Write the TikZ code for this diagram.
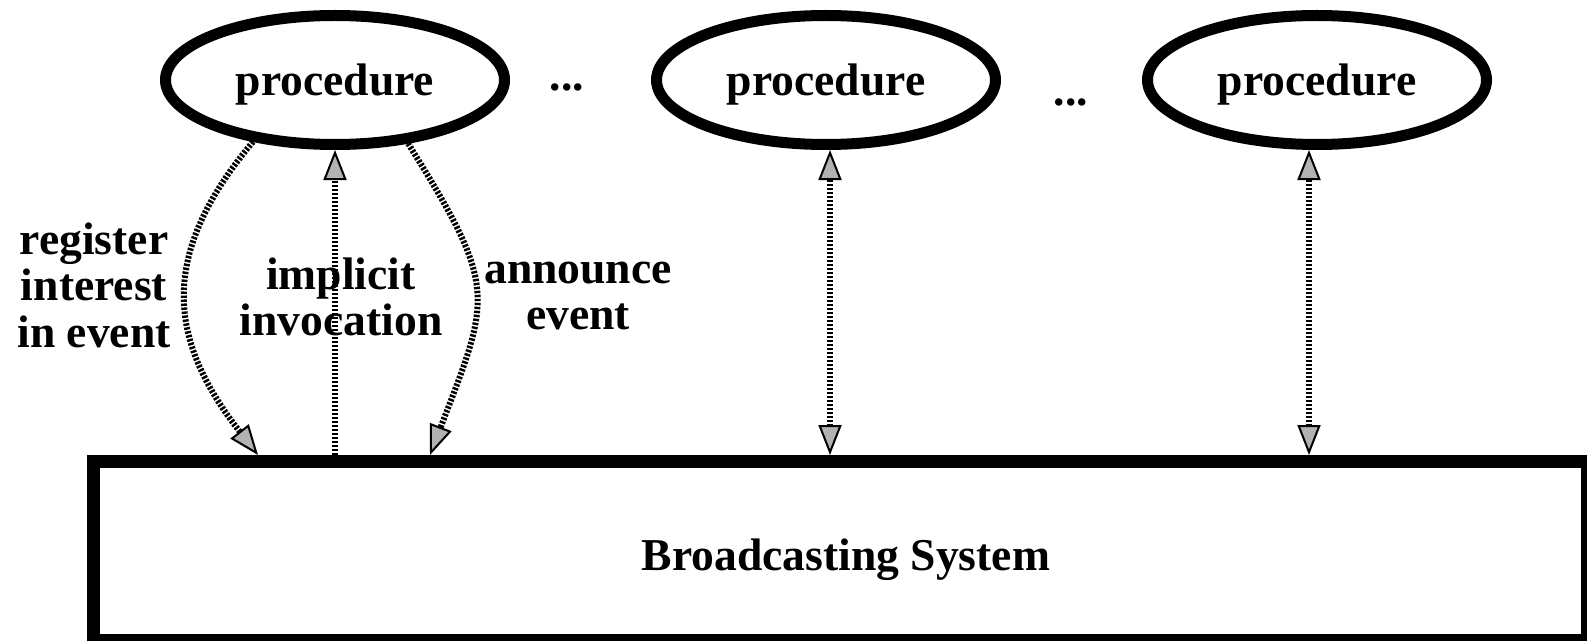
\documentclass[tikz,border=0pt]{standalone}
\usepackage{fontspec}
\setmainfont{Liberation Serif}
\usetikzlibrary{arrows.meta,shapes.geometric}

\tikzset{
  proc/.style={ellipse, draw, line width=11bp, minimum width=339bp,
    minimum height=129bp, inner sep=0pt, text depth=0pt, font=\bigbold},
  sysbox/.style={rectangle, draw, line width=13bp, minimum width=1494bp,
    minimum height=179bp, inner sep=0pt},
  lbl/.style={align=center, inner sep=0pt, font=\bigbold},
  hatchtip/.tip={Triangle[length=30bp, width=23bp, fill=gray!60, line width=2bp]},
  conn/.style={line width=6bp, dash pattern=on 2.4bp off 1.6bp, black},
}
\newcommand{\bigbold}{\fontsize{45.6bp}{46.5bp}\selectfont\bfseries}

\begin{document}
\begin{tikzpicture}[x=1bp, y=-1bp]
  \useasboundingbox (0,0) rectangle (1587,641);

  % procedures along the top
  \node[proc] (e1) at (335,80) {procedure};
  \node[proc] (e2) at (826,80) {procedure};
  \node[proc] (e3) at (1317,80) {procedure};
  \node[lbl, anchor=base] (dots1) at (567,91) {...};
  \node[lbl, anchor=base] (dots2) at (1071,106) {...};

  % broadcasting system
  \node[sysbox] (bs) at (840.5,551) {};
  \node[lbl, anchor=base] (bstext) at (846,570) {Broadcasting System};

  % connectors of the first procedure
  \draw[conn, -hatchtip] (e1.-143)
    to[out=230, in=128, looseness=1.2] ([xshift=171bp]bs.north west);
  \draw[conn, -hatchtip] (e1.south |- bs.north) -- (e1.south);
  \draw[conn, -hatchtip] (e1.-41)
    to[out=-58, in=69, looseness=1.4] ([xshift=343bp]bs.north west);

  % two-way connectors of the other procedures
  \draw[conn, hatchtip-hatchtip] ([xshift=4bp]e2.south) -- ([xshift=4bp]e2.south |- bs.north);
  \draw[conn, hatchtip-hatchtip] ([xshift=-8bp]e3.south) -- ([xshift=-8bp]e3.south |- bs.north);

  % connector labels
  \node[lbl] (lreg) at (94,285) {register\\interest\\in event};
  \node[lbl] (limp) at (341,297) {implicit\\invocation};
  \node[lbl] (lann) at (578,296) {announce\\event};
\end{tikzpicture}
\end{document}
